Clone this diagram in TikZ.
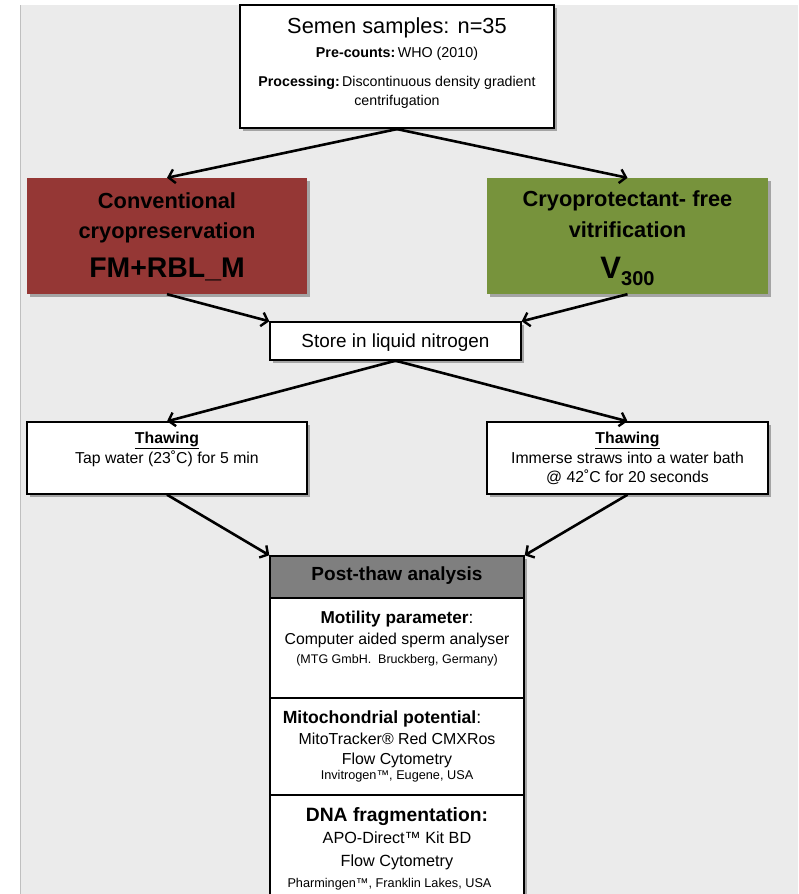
\documentclass[tikz,border=0pt]{standalone}
\usepackage{fontspec}
\setmainfont{Liberation Sans}
\usetikzlibrary{arrows.meta,shadows}
\definecolor{bgpanel}{HTML}{EBEBEB}
\definecolor{cred}{HTML}{953735}
\definecolor{cgreen}{HTML}{77933C}
\definecolor{chead}{HTML}{7F7F7F}
\newcommand\fsz[1]{\fontsize{#1}{#1}\selectfont}
\begin{document}
\begin{tikzpicture}[x=1pt,y=-1pt,
  shade/.style={drop shadow={shadow xshift=2.5pt,shadow yshift=-2.5pt,fill=black,opacity=0.3}},
  wbox/.style={draw=black,line width=1.4pt,fill=white,inner sep=0pt,shade},
  cbox/.style={draw=none,inner sep=0pt,shade},
  txt/.style={anchor=base,inner sep=0pt,align=center},
  arr/.style={line width=2.6pt,-{Straight Barb[length=6pt,width=14pt,line width=2.4pt]}}
]
\useasboundingbox (0,0) rectangle (798,894);
\fill[white] (0,0) rectangle (798,894);
\fill[bgpanel] (20,5) rectangle (798,894);
\draw[black!25,line width=1pt] (20,5) -- (20,894);

% boxes
\node[wbox,line width=2.2pt,minimum width=314pt,minimum height=123pt] (top) at (397,66.5) {};
\node[cbox,fill=cred,minimum width=280pt,minimum height=116pt] (red) at (167,236) {};
\node[cbox,fill=cgreen,minimum width=281pt,minimum height=116pt] (green) at (627.5,236) {};
\node[wbox,minimum width=251pt,minimum height=38pt] (store) at (395.5,341) {};
\node[wbox,minimum width=280pt,minimum height=72pt] (thawL) at (167,458) {};
\node[wbox,minimum width=281pt,minimum height=72pt] (thawR) at (627.5,458) {};
\node[wbox,fill=chead,minimum width=254pt,minimum height=42pt] (head) at (397,577) {};
\node[wbox,minimum width=254pt,minimum height=100pt] (mot) at (397,648) {};
\node[wbox,minimum width=254pt,minimum height=97pt] (mito) at (397,746.5) {};
\node[wbox,minimum width=254pt,minimum height=110pt] (dna) at (397,850) {};

% texts
\node[txt,font=\fsz{21.8}] (t1) at (397,33) {Semen samples: n=35};
\node[txt,font=\fsz{14.3}] (t2) at (397,57) {\textbf{Pre-counts:}\,WHO (2010)};
\node[txt,font=\fsz{14.2}] (t3) at (397,86) {\textbf{Processing:}\,Discontinuous density gradient};
\node[txt,font=\fsz{14.2}] (t4) at (397,105) {centrifugation};

\node[txt,font=\fsz{21.8}\bfseries] (r1) at (167,208) {Conventional};
\node[txt,font=\fsz{21.8}\bfseries] (r2) at (167,238) {cryopreservation};
\node[txt,font=\fsz{28.4}\bfseries] (r3) at (167,277) {FM+RBL\_M};

\node[txt,font=\fsz{21.8}\bfseries] (g1) at (627.5,206) {Cryoprotectant- free};
\node[txt,font=\fsz{21.8}\bfseries] (g2) at (627.5,237) {vitrification};
\node[txt,font=\fsz{31}\bfseries] (g3) at (627.5,278) {V\raisebox{-7pt}{\fsz{20}\bfseries 300}};

\node[txt,font=\fsz{18.9}] (s1) at (395.5,347) {Store in liquid nitrogen};

\node[txt,font=\fsz{15.8}] (l1) at (167,443) {\underline{\textbf{Thawing}}};
\node[txt,font=\fsz{15.8}] (l2) at (167,463) {Tap water (23˚C) for 5 min};

\node[txt,font=\fsz{15.8}] (q1) at (627.5,443) {\underline{\textbf{Thawing}}};
\node[txt,font=\fsz{15.8}] (q2) at (627.5,463) {Immerse straws into a water bath};
\node[txt,font=\fsz{15.8}] (q3) at (627.5,482) {@ 42˚C for 20 seconds};

\node[txt,font=\fsz{19}\bfseries] (h1) at (397,580) {Post-thaw analysis};

\node[txt,font=\fsz{17.2}] (m1) at (397,623) {\textbf{Motility parameter}:};
\node[txt,font=\fsz{15.8}] (m2) at (397,644) {Computer aided sperm analyser};
\node[txt,font=\fsz{12.5}] (m3) at (397,663) {(MTG GmbH.\ \ Bruckberg, Germany)};

\node[txt,font=\fsz{17.6}] (c1) at (382,723) {\textbf{Mitochondrial potential}:};
\node[txt,font=\fsz{15.9}] (c2) at (397,744) {MitoTracker® Red CMXRos};
\node[txt,font=\fsz{15.9}] (c3) at (397,764) {Flow Cytometry};
\node[txt,font=\fsz{12.7}] (c4) at (397,779) {Invitrogen™, Eugene, USA};

\node[txt,font=\fsz{19.3}\bfseries] (d1) at (397,821) {DNA fragmentation:};
\node[txt,font=\fsz{16.2}] (d2) at (397,843) {APO-Direct™ Kit BD};
\node[txt,font=\fsz{16.2}] (d3) at (397,866) {Flow Cytometry};
\node[txt,font=\fsz{12.7}] (d4) at (389.5,887) {Pharmingen™, Franklin Lakes, USA};

% arrows
\draw[arr] (top.south) -- (red.north);
\draw[arr] (top.south) -- (green.north);
\draw[arr] (red.south) -- (store.north west);
\draw[arr] (green.south) -- (store.north east);
\draw[arr] (store.south) -- (thawL.north);
\draw[arr] (store.south) -- (thawR.north);
\draw[arr] (thawL.south) -- (head.north west);
\draw[arr] (thawR.south) -- (head.north east);
\end{tikzpicture}
\end{document}
